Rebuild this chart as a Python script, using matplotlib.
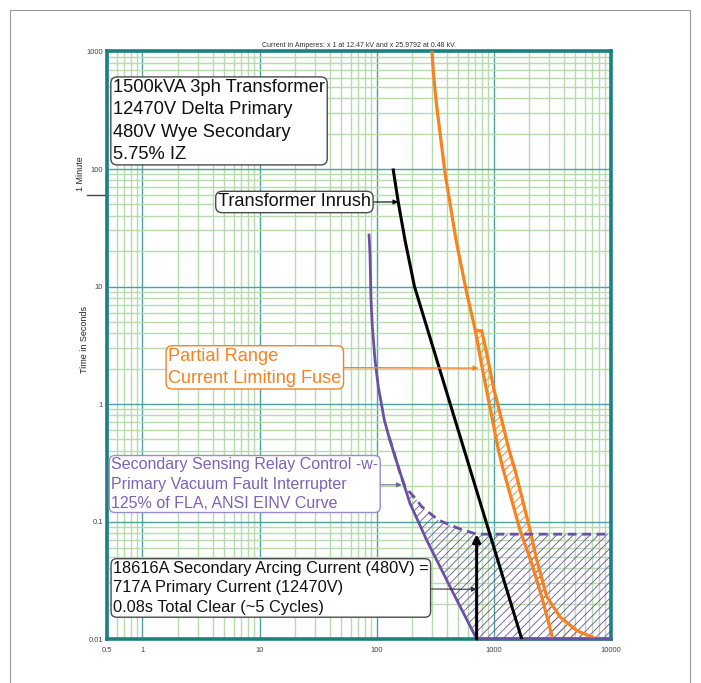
import numpy as np
import matplotlib
matplotlib.use("Agg")
import matplotlib.pyplot as plt
from matplotlib.ticker import LogLocator, NullFormatter, FixedLocator, FixedFormatter
from matplotlib.patches import Rectangle
import matplotlib.transforms as mtransforms

plt.rcParams['font.family'] = ['Liberation Sans', 'DejaVu Sans']
plt.rcParams['hatch.linewidth'] = 0.6

# ---------------- data ----------------
x_ticks = [0.5, 1, 10, 100, 1000, 10000]
x_tick_labels = ['0.5', '1', '10', '100', '1000', '10000']
y_ticks = [0.01, 0.1, 1, 10, 100, 1000]
y_tick_labels = ['0.01', '0.1', '1', '10', '100', '1000']

# Partial range current limiting fuse: minimum melt and total clear (A, s)
fuse_mm_i = [298, 306, 327, 385, 478, 590, 700, 782, 880, 979, 1099, 1213, 1683, 2120, 2580, 3210]
fuse_mm_t = [1000, 656, 339, 92.5, 24.9, 8.8, 4.2, 2.28, 1.25, 0.73, 0.406, 0.274, 0.0847, 0.044, 0.0229, 0.01]
fuse_tc_i = [700, 793, 880, 1009, 1175, 1357, 1528, 2051, 2340, 2851, 3700, 5140, 7620]
fuse_tc_t = [4.2, 4.2, 2.61, 1.32, 0.73, 0.406, 0.274, 0.0847, 0.047, 0.0229, 0.0154, 0.0118, 0.01]

# Transformer inrush (A, s)
inrush_i = [139, 154, 175, 211, 1742]
inrush_t = [98, 51, 24.9, 10.0, 0.01]

# Relay / vacuum fault interrupter: minimum (solid) and total clear (dashed)
relay_i = [86.3, 87.9, 89.7, 92.1, 97.1, 103.6, 116.6, 128, 144, 193, 268, 439, 718, 10000]
relay_t = [27.4, 19.2, 7.67, 4.55, 2.36, 1.40, 0.73, 0.52, 0.356, 0.143, 0.0696, 0.0261, 0.01, 0.01]
relay_d_i = [128, 135, 159, 175, 221, 243, 337, 500, 718, 10000]
relay_d_t = [0.52, 0.448, 0.257, 0.198, 0.152, 0.134, 0.103, 0.0875, 0.078, 0.078]

# Arcing fault current on primary side and clearing time
arc_i = 717
arc_t = [0.01, 0.078]

title_text = "Current in Amperes: x 1 at 12.47 kV and x 25.9792 at 0.48 kV."
xfmr_text = "1500kVA 3ph Transformer\n12470V Delta Primary\n480V Wye Secondary\n5.75% IZ"
inrush_text = "Transformer Inrush"
fuse_text = "Partial Range\nCurrent Limiting Fuse"
relay_text = "Secondary Sensing Relay Control -w-\nPrimary Vacuum Fault Interrupter\n125% of FLA, ANSI EINV Curve"
arc_text = "18616A Secondary Arcing Current (480V) =\n717A Primary Current (12470V)\n0.08s Total Clear (~5 Cycles)"

# ---------------- style ----------------
ORANGE = '#f7821f'
PURPLE = '#6a52a3'
PURPLE_TXT = '#7d63b6'
TEAL = '#1c8080'
MAJOR = '#4aa2a2'
MINOR = '#b6dbad'

fig = plt.figure(figsize=(7.01, 6.83), dpi=100)
fig.patches.append(Rectangle((10/701, -0.05), 680/701, 1.05 - 10/683, transform=fig.transFigure,
                             fill=False, ec='#9a9a9a', lw=0.8))
ax = fig.add_axes([0.153, 0.0644, 0.718, 0.8602])
ax.set_xscale('log')
ax.set_yscale('log')
ax.set_xlim(0.5, 10000)
ax.set_ylim(0.01, 1000)

ax.xaxis.set_major_locator(FixedLocator(x_ticks))
ax.xaxis.set_major_formatter(FixedFormatter(x_tick_labels))
ax.yaxis.set_major_locator(FixedLocator(y_ticks))
ax.yaxis.set_major_formatter(FixedFormatter(y_tick_labels))
ax.xaxis.set_minor_locator(LogLocator(base=10, subs=np.arange(2, 10), numticks=100))
ax.yaxis.set_minor_locator(LogLocator(base=10, subs=np.arange(2, 10), numticks=100))
ax.xaxis.set_minor_formatter(NullFormatter())
ax.yaxis.set_minor_formatter(NullFormatter())
ax.set_axisbelow(True)
ax.grid(which='minor', color=MINOR, lw=1.0)
ax.grid(which='major', color=MAJOR, lw=1.0)
ax.tick_params(which='both', length=0, labelsize=5.5, labelcolor='#444444', pad=3)
ax.tick_params(axis='x', pad=6)
for sp in ax.spines.values():
    sp.set_color(TEAL)
    sp.set_linewidth(2.6)

ax.set_title(title_text, fontsize=5, color='#333333', pad=3)

# y label and 1 minute marker
ax.text(-0.046, 0.509, "Time in Seconds", rotation=90, transform=ax.transAxes,
        ha='center', va='center', fontsize=6.5, color='#222222')
trans = mtransforms.blended_transform_factory(ax.transAxes, ax.transData)
ax.plot([-0.041, 0], [60, 60], transform=trans, color='#444444', lw=1.0, clip_on=False)
ax.text(-0.053, 92, "1 Minute", rotation=90, transform=trans, ha='center', va='center',
        fontsize=6.5, color='#222222')

# fuse hatch region
poly_i = fuse_mm_i[6:] + fuse_tc_i[::-1]
poly_t = fuse_mm_t[6:] + fuse_tc_t[::-1]
ax.fill(poly_i, poly_t, facecolor='none', edgecolor=ORANGE, hatch='////', lw=0, zorder=2)

# relay hatch region
start = relay_i.index(relay_d_i[0])
rp_i = relay_i[start:] + relay_d_i[::-1]
rp_t = relay_t[start:] + relay_d_t[::-1]
ax.fill(rp_i, rp_t, facecolor='none', edgecolor=PURPLE, hatch='////', lw=0, zorder=2)

# curves
ax.plot(fuse_mm_i, fuse_mm_t, color=ORANGE, lw=2.3, zorder=4, solid_joinstyle='miter')
ax.plot(fuse_tc_i, fuse_tc_t, color=ORANGE, lw=2.3, zorder=4, solid_joinstyle='miter')
ax.plot(inrush_i, inrush_t, color='black', lw=2.2, zorder=5)
ax.plot(relay_i, relay_t, color=PURPLE, lw=2.0, zorder=4, clip_on=False)
ax.plot(relay_d_i, relay_d_t, color=PURPLE, lw=2.0, ls=(0, (3.2, 2.0)), zorder=4)

ax.annotate('', xy=(arc_i, arc_t[1]), xytext=(arc_i, arc_t[0]),
            arrowprops=dict(arrowstyle='-|>', color='black', lw=2.2, mutation_scale=11,
                            shrinkA=0, shrinkB=0), zorder=6)

# annotations
box_k = dict(boxstyle='round,pad=0.12,rounding_size=0.35', fc='white', ec='#4a4a4a', lw=1.0)
ax.text(0.0115, 0.953, xfmr_text, transform=ax.transAxes, ha='left', va='top',
        fontsize=13.2, linespacing=1.40, color='#111111', bbox=box_k, zorder=7)

ax.annotate(inrush_text, xy=(153, 52.4), xytext=(89.5, 52.4), ha='right', va='center',
            fontsize=13.1, color='#111111', bbox=box_k, zorder=7,
            arrowprops=dict(arrowstyle='-|>', color='black', lw=0.8, mutation_scale=7,
                            shrinkA=0, shrinkB=0))

box_o = dict(boxstyle='round,pad=0.12,rounding_size=0.35', fc='white', ec=ORANGE, lw=1.0)
ax.annotate(fuse_text, xy=(745, 2.02), xytext=(1.66, 2.05), ha='left', va='center',
            fontsize=13.1, linespacing=1.38, color=ORANGE, bbox=box_o, zorder=7,
            arrowprops=dict(arrowstyle='-|>', color=ORANGE, lw=1.0, mutation_scale=7,
                            shrinkA=0, shrinkB=0))

box_p = dict(boxstyle='round,pad=0.12,rounding_size=0.35', fc='white', ec='#9a8ccc', lw=1.0)
ax.annotate(relay_text, xy=(164, 0.205), xytext=(0.54, 0.2085), ha='left', va='center',
            fontsize=11.5, linespacing=1.34, color=PURPLE_TXT, bbox=box_p, zorder=7,
            arrowprops=dict(arrowstyle='-|>', color='#6a6a8a', lw=0.8, mutation_scale=7,
                            shrinkA=0, shrinkB=0))

ax.annotate(arc_text, xy=(arc_i, 0.0265), xytext=(0.56, 0.0272), ha='left', va='center',
            fontsize=11.75, linespacing=1.40, color='#111111', bbox=box_k, zorder=7,
            arrowprops=dict(arrowstyle='-|>', color='#333333', lw=0.8, mutation_scale=7,
                            shrinkA=0, shrinkB=0))

fig.savefig('out.png', dpi=100)
